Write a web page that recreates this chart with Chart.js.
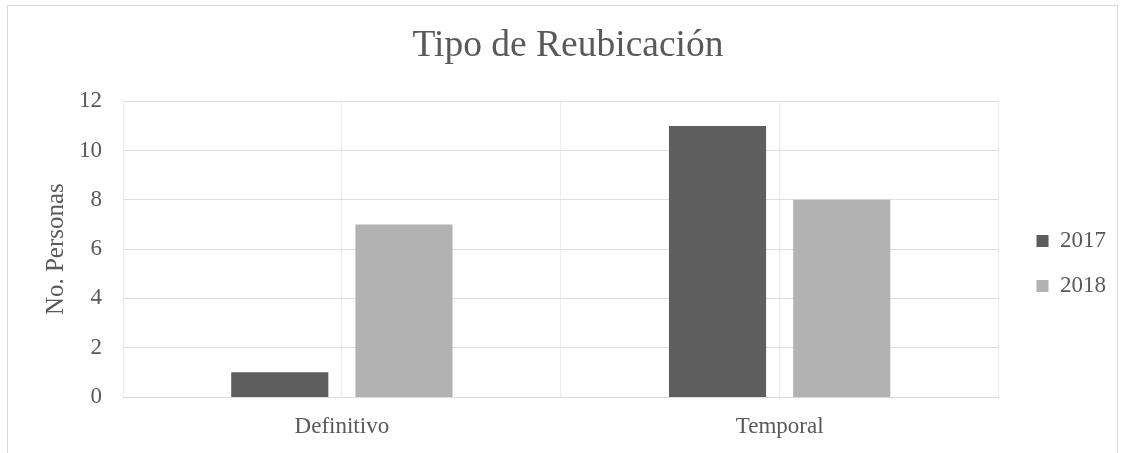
<!DOCTYPE html>
<html>
<head>
<meta charset="utf-8">
<script src="https://cdn.jsdelivr.net/npm/chart.js@4"></script>
<style>
  html, body { margin: 0; padding: 0; background: #ffffff; }
  #wrap { position: relative; width: 1121px; height: 453px; overflow: hidden; }
  #frame { position: absolute; left: 7px; top: 5px; width: 1111px; height: 470px; border: 1px solid #d9d9d9; box-sizing: border-box; }
  #chart { position: absolute; left: 0; top: 0; }
</style>
</head>
<body>
<div id="wrap">
  <div id="frame"></div>
  <canvas id="chart" width="1121" height="453"></canvas>
</div>
<script>
// Datos del gráfico
const categories = ["Definitivo", "Temporal"];
const seriesNames = ["2017", "2018"];
const values2017 = [1, 11];
const values2018 = [7, 8];
const yTicks = [0, 2, 4, 6, 8, 10, 12];

document.addEventListener("DOMContentLoaded", function() {
    Chart.defaults.font.family = "'Liberation Serif', 'Times New Roman', serif";
    Chart.defaults.color = "#595959";

    const ctx = document.getElementById("chart").getContext("2d");
    const chart = new Chart(ctx, {
        type: "bar",
        data: {
            labels: categories,
            datasets: [{
                label: seriesNames[0],
                data: values2017,
                backgroundColor: "#5e5e5e",
                categoryPercentage: 0.5675,
                barPercentage: 0.782
            }, {
                label: seriesNames[1],
                data: values2018,
                backgroundColor: "#b2b2b2",
                categoryPercentage: 0.5675,
                barPercentage: 0.782
            }]
        },
        options: {
            responsive: false,
            animation: false,
            layout: {
                padding: { top: 14, right: 5, bottom: 0, left: 20 }
            },
            plugins: {
                title: {
                    display: true,
                    text: "Tipo de Reubicación",
                    font: { size: 37.5, weight: "normal" },
                    color: "#595959",
                    padding: { top: 10, bottom: 32.3 }
                },
                legend: {
                    position: "right",
                    title: {
                        display: true,
                        text: "",
                        font: { size: 10, lineHeight: 1 },
                        padding: { top: 50, bottom: 0 }
                    },
                    labels: {
                        boxWidth: 12,
                        boxHeight: 12,
                        padding: 22,
                        font: { size: 23 },
                        color: "#595959"
                    }
                },
                tooltip: { enabled: false }
            },
            scales: {
                x: {
                    grid: { color: "#ececec", offset: true, drawTicks: false },
                    border: { display: true, color: "#d9d9d9" },
                    ticks: { font: { size: 23 }, padding: 16 },
                    afterFit: function(axis) { axis.height = 56; }
                },
                x2: {
                    type: "category",
                    labels: categories,
                    position: "top",
                    offset: true,
                    grid: { color: "#ececec", offset: false, drawTicks: false },
                    border: { display: false },
                    ticks: { display: false }
                },
                gap: {
                    type: "linear",
                    position: "right",
                    grid: { display: false, drawTicks: false },
                    border: { display: false },
                    ticks: { display: false },
                    afterFit: function(axis) { axis.width = 16; }
                },
                y: {
                    min: 0,
                    max: 12,
                    afterBuildTicks: function(axis) {
                        axis.ticks = yTicks.map(function(v) { return { value: v }; });
                    },
                    grid: { color: "#dedede", drawTicks: false },
                    border: { display: false },
                    ticks: { font: { size: 23 }, padding: 21 },
                    title: {
                        display: true,
                        text: "No. Personas",
                        font: { size: 25 },
                        color: "#595959",
                        padding: { top: 21, bottom: 0 }
                    },
                    afterFit: function(axis) { axis.width = 103; }
                }
            }
        }
    });
});
</script>
</body>
</html>
